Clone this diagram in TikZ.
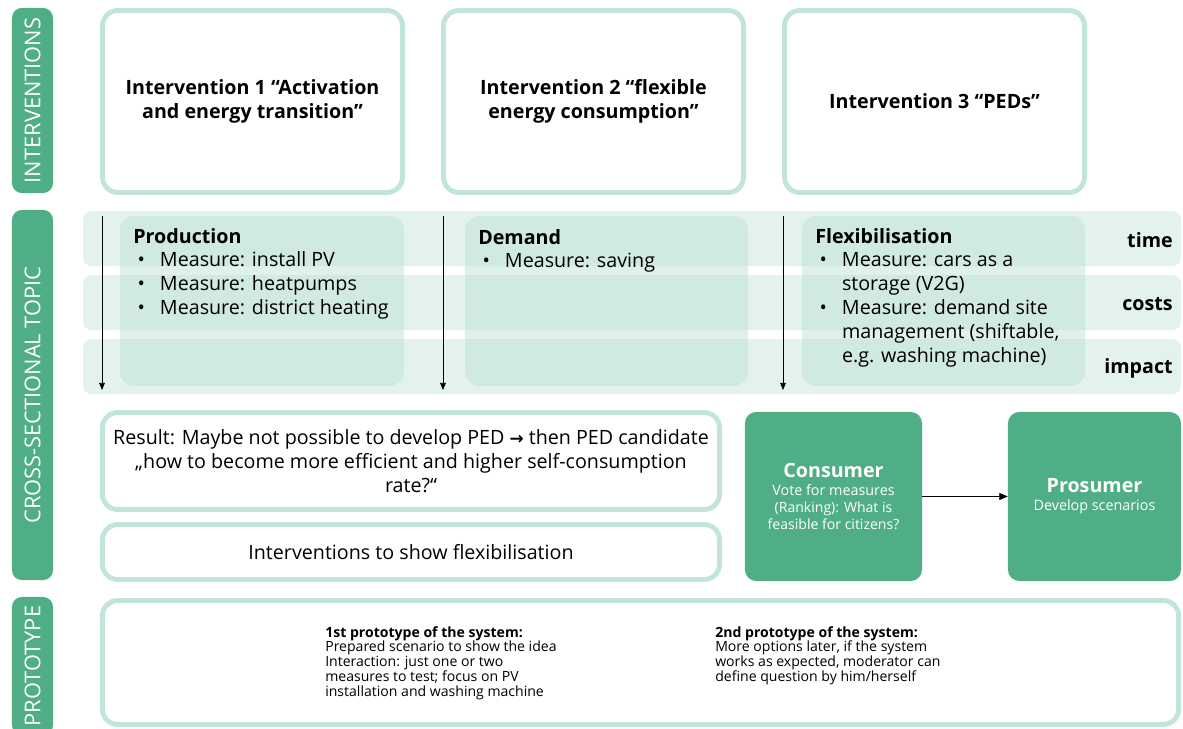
\documentclass[tikz,border=0pt]{standalone}
\usepackage{fontspec}
\setmainfont{Open Sans}
\newfontfamily\symfont{DejaVu Sans}
\usetikzlibrary{positioning,arrows.meta}

\definecolor{sidegreen}{HTML}{4FAE84}
\definecolor{edgegreen}{HTML}{C2E6D6}
\definecolor{bandgreen}{HTML}{E4F2EC}
\definecolor{innergreen}{HTML}{BFE3D3}

\tikzset{
  sidebar/.style={fill=sidegreen,rounded corners=7pt,text=white,font=\fontsize{15.5}{17}\selectfont,inner sep=0pt},
  framebox/.style={draw=edgegreen,line width=3.5pt,rounded corners=11pt,fill=white,inner sep=0pt},
  band/.style={fill=bandgreen,rounded corners=6pt},
  topicbox/.style={fill=innergreen,fill opacity=0.5,rounded corners=10pt},
  rolebox/.style={fill=sidegreen,rounded corners=8pt,text=white,align=center,inner sep=0pt},
  bigtext/.style={font=\fontsize{14}{17}\selectfont},
  smalltext/.style={font=\fontsize{10}{10.6}\selectfont,align=left,anchor=north west,inner sep=0pt},
  rowlabel/.style={font=\bfseries\fontsize{14}{17}\selectfont,anchor=east,inner sep=0pt},
  flowarrow/.style={-{Triangle[length=5pt,width=4pt]},thin}
}

\begin{document}
\begin{tikzpicture}[x=0.025cm,y=-0.025cm]
\useasboundingbox (0,0) rectangle (1183,729);

% side bars
\node[sidebar,rotate=90,minimum width=4.625cm,minimum height=1.025cm] (sideint) at (32.5,100.5) {INTERVENTIONS};
\node[sidebar,rotate=90,minimum width=9.25cm,minimum height=1.025cm] (sidecross) at (32.5,395) {CROSS-SECTIONAL TOPIC};
\node[sidebar,rotate=90,minimum width=3.45cm,minimum height=1.025cm] (sideproto) at (32.5,666) {PROTOTYPE};

% interventions
\node[framebox,bigtext,font=\bfseries\fontsize{14}{17}\selectfont,align=center,minimum width=7.5cm,minimum height=4.55cm] (int1) at (252.5,101.5) {Intervention 1 “Activation\\and energy transition”};
\node[framebox,bigtext,font=\bfseries\fontsize{14}{17}\selectfont,align=center,minimum width=7.5cm,minimum height=4.55cm] (int2) at (593.5,101.5) {Intervention 2 “flexible\\energy consumption”};
\node[framebox,bigtext,font=\bfseries\fontsize{14}{17}\selectfont,align=center,minimum width=7.5cm,minimum height=4.55cm] (int3) at (934.5,101.5) {Intervention 3 “PEDs”};

% cross-sectional rows
\foreach \y in {211,275,339}
  \fill[band] (83,\y) rectangle (1181,\y+55);
\fill[topicbox] (120,216) rectangle (404,386);
\fill[topicbox] (465,216) rectangle (748,386);
\fill[topicbox] (802,216) rectangle (1085,386);

\foreach \x/\n in {102/1,443/2,783/3}{
  \coordinate (top\n) at (\x,216);
  \coordinate (bot\n) at (\x,390);
  \draw[flowarrow] (top\n) -- (bot\n);
}

\node[rowlabel] (time) at (1173,240) {time};
\node[rowlabel] (costs) at (1173,304) {costs};
\node[rowlabel] (impact) at (1173,368) {impact};

\node[bigtext,anchor=north west,inner sep=0pt] (prod) at (133,226) {%
\begin{tabular}{@{}p{19pt}@{}l@{}}
\multicolumn{2}{@{}l}{\textbf{Production}}\\
\hspace{3pt}\textbullet & Measure: install PV\\
\hspace{3pt}\textbullet & Measure: heatpumps\\
\hspace{3pt}\textbullet & Measure: district heating
\end{tabular}};
\node[bigtext,anchor=north west,inner sep=0pt] (dem) at (478,227) {%
\begin{tabular}{@{}p{19pt}@{}l@{}}
\multicolumn{2}{@{}l}{\textbf{Demand}}\\
\hspace{3pt}\textbullet & Measure: saving
\end{tabular}};
\node[bigtext,anchor=north west,inner sep=0pt] (flex) at (815,226) {%
\begin{tabular}{@{}p{19pt}@{}l@{}}
\multicolumn{2}{@{}l}{\textbf{Flexibilisation}}\\
\hspace{3pt}\textbullet & Measure: cars as a\\
 & storage (V2G)\\
\hspace{3pt}\textbullet & Measure: demand site\\
 & management (shiftable,\\
 & e.g. washing machine)
\end{tabular}};

% results
\node[framebox,bigtext,align=center,minimum width=15.425cm,minimum height=2.425cm] (result) at (411,461) {Result: Maybe not possible to develop PED {\symfont\bfseries\fontsize{12}{17}\selectfont →} then PED candidate\\„how to become more efficient and higher self-consumption\\rate?“};
\node[framebox,bigtext,align=center,minimum width=15.425cm,minimum height=1.375cm] (showflex) at (411,552) {Interventions to show flexibilisation};

\node[rolebox,minimum width=4.425cm,minimum height=4.225cm] (consumer) at (833.5,496.5) {{\bfseries\fontsize{14}{17}\selectfont Consumer}\\[1pt]\fontsize{10.2}{11.7}\selectfont Vote for measures\\(Ranking): What is\\feasible for citizens?};
\node[rolebox,minimum width=4.325cm,minimum height=4.225cm] (prosumer) at (1094.5,496.5) {{\bfseries\fontsize{14}{17}\selectfont Prosumer}\\[1pt]\fontsize{10.2}{11.7}\selectfont Develop scenarios};
\draw[-{Triangle[length=6pt,width=5pt]},thin] (consumer) -- (prosumer);

% prototype
\node[framebox,minimum width=26.9cm,minimum height=3.1cm] (proto) at (640.5,662.5) {};
\node[smalltext] (proto1) at (325,626) {\textbf{1st prototype of the system:}\\Prepared scenario to show the idea\\Interaction: just one or two\\measures to test; focus on PV\\installation and washing machine};
\node[smalltext] (proto2) at (715,626) {\textbf{2nd prototype of the system:}\\More options later, if the system\\works as expected, moderator can\\define question by him/herself};
\end{tikzpicture}
\end{document}
